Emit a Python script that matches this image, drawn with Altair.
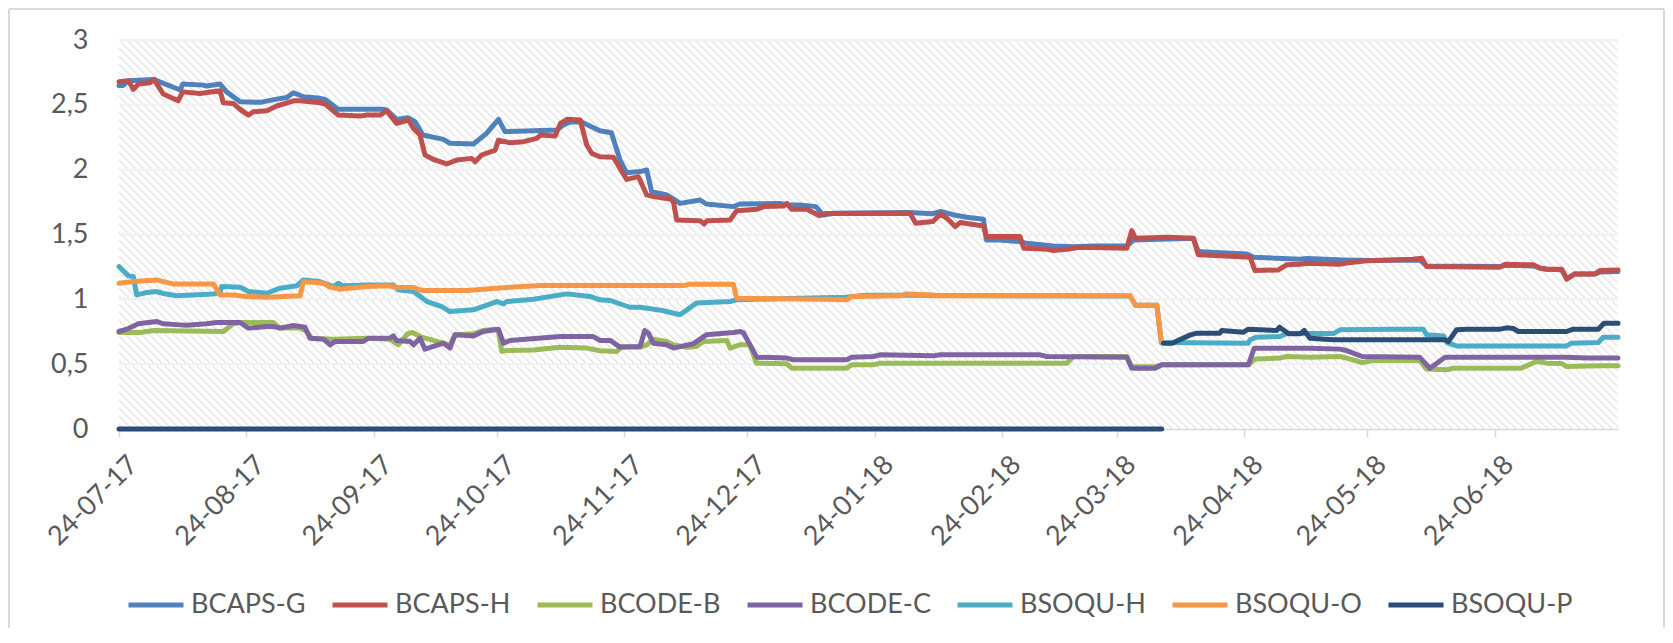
import altair as alt
import pandas as pd

series_names = ["BCAPS-G", "BCAPS-H", "BCODE-B", "BCODE-C", "BSOQU-H", "BSOQU-O", "BSOQU-P"]
series_colors = ["#4F81BD", "#C0504D", "#9BBB59", "#8064A2", "#4BACC6", "#F79646", "#2C4D75"]

start_date = "2017-07-24"
end_date = "2018-07-24"
tick_dates = ["2017-07-24", "2017-08-24", "2017-09-24", "2017-10-24", "2017-11-24", "2017-12-24",
              "2018-01-24", "2018-02-24", "2018-03-24", "2018-04-24", "2018-05-24", "2018-06-24"]
y_ticks = [0, 0.5, 1, 1.5, 2, 2.5, 3]
grid_values = [0.5, 1, 1.5, 2, 2.5, 3]

# day offsets from 24-07-17 and values
bcaps_g_day = [0, 1, 2.3, 4.7, 8.4, 14.9, 15.5, 20.5, 21.3, 24.6, 26.2, 29.5, 34.4, 38.4, 40.8, 42.5, 44.9, 49, 50.2, 53.4,
               64.4, 65.2, 67.6, 70.3, 72.1, 74, 79, 80.6, 86.3, 89.5, 92.4, 94, 101, 106.6, 108.2, 110, 112.8, 115, 117.1, 119.9,
               120.7, 122, 123.6, 126.9, 128.5, 129.7, 133.4, 136.6, 141.5, 143, 149.6, 151.2, 161, 162.6, 165.8, 169.7, 171.5, 174, 192.6, 198,
               200, 203.3, 206.4, 210.5, 211.2, 214.5, 219.4, 221, 227.5, 232.4, 237.3, 245.4, 247.1, 255.5, 261.6, 262.8, 268.1, 274.6, 276.2, 287.6,
               289.2, 298.1, 305.4, 316.7, 318.4, 336.3, 337.5, 344.4, 346.1, 347.7, 351.3, 352.5, 354.5, 359.4, 360.6, 365]
bcaps_g_val = [2.65, 2.65, 2.686, 2.69, 2.696, 2.614, 2.66, 2.652, 2.645, 2.66, 2.60, 2.524, 2.519, 2.544, 2.556, 2.593, 2.562, 2.55, 2.542, 2.465,
               2.465, 2.46, 2.388, 2.40, 2.37, 2.267, 2.234, 2.203, 2.198, 2.28, 2.388, 2.293, 2.30, 2.306, 2.344, 2.37, 2.365, 2.331, 2.30, 2.285,
               2.203, 2.074, 1.977, 1.985, 1.997, 1.83, 1.805, 1.74, 1.766, 1.735, 1.715, 1.735, 1.74, 1.728, 1.728, 1.715, 1.651, 1.664, 1.669, 1.66,
               1.677, 1.651, 1.633, 1.617, 1.458, 1.458, 1.445, 1.432, 1.412, 1.405, 1.412, 1.412, 1.458, 1.465, 1.471, 1.368, 1.36, 1.35, 1.325, 1.309,
               1.315, 1.304, 1.30, 1.304, 1.258, 1.253, 1.262, 1.258, 1.24, 1.232, 1.228, 1.16, 1.196, 1.196, 1.21, 1.214]

bcaps_h_day = [0, 2.3, 3.5, 4.7, 7.5, 8.5, 10.8, 14.4, 15.5, 19.7, 24.6, 25.4, 27.8, 29.5, 31.5, 32.7, 36, 38.4, 42.5, 44.1,
               49, 50.2, 53.4, 58.7, 60.3, 63.6, 65.2, 67.6, 70.5, 71.7, 73.3, 74.5, 76.5, 79.8, 82.2, 85.9, 86.7, 88.3, 91.6, 92.4,
               95.2, 98.5, 101.7, 102.6, 106.2, 107.5, 109.1, 112.3, 113.9, 115.1, 117.1, 120.4, 123.6, 126.5, 128.5, 130.1, 134.2, 135, 135.8, 141.5,
               142.5, 143.2, 148.8, 150.4, 155.3, 157, 161.8, 162.6, 163.8, 167.5, 170.6, 172.2, 192.6, 194, 198.2, 200, 201.6, 203.6, 204.8, 210.5,
               211.2, 219.4, 220.3, 226, 227.5, 230.8, 234, 245.4, 246.6, 247.5, 255.3, 261.6, 262.8, 268.1, 275.4, 276.6, 282.3, 284.3, 287.6, 289.2,
               297.3, 298.9, 303.8, 315.1, 317.2, 318.4, 336.3, 337.5, 344.4, 346.1, 347.7, 351.3, 352.5, 354.5, 359.4, 360.6, 365]
bcaps_h_val = [2.678, 2.686, 2.619, 2.66, 2.67, 2.696, 2.583, 2.531, 2.60, 2.588, 2.609, 2.516, 2.511, 2.465, 2.421, 2.447, 2.455, 2.491, 2.531, 2.531,
               2.516, 2.506, 2.421, 2.413, 2.421, 2.421, 2.455, 2.357, 2.383, 2.318, 2.267, 2.113, 2.08, 2.044, 2.074, 2.087, 2.061, 2.113, 2.151, 2.228,
               2.208, 2.216, 2.241, 2.267, 2.259, 2.357, 2.388, 2.383, 2.19, 2.126, 2.10, 2.095, 1.925, 1.946, 1.805, 1.792, 1.774, 1.753, 1.612, 1.607,
               1.581, 1.607, 1.612, 1.684, 1.694, 1.715, 1.72, 1.74, 1.694, 1.694, 1.645, 1.662, 1.664, 1.586, 1.60, 1.658, 1.625, 1.561, 1.592, 1.566,
               1.484, 1.484, 1.394, 1.386, 1.376, 1.386, 1.402, 1.394, 1.53, 1.471, 1.479, 1.471, 1.343, 1.337, 1.325, 1.222, 1.227, 1.266, 1.27, 1.278,
               1.27, 1.28, 1.298, 1.309, 1.317, 1.253, 1.248, 1.27, 1.266, 1.24, 1.232, 1.232, 1.155, 1.196, 1.196, 1.222, 1.227]

bcode_b_day = [0, 5.1, 8.4, 25.4, 27.8, 29.5, 37.6, 39.2, 44.1, 45.7, 46.9, 52.2, 60.3, 66, 68, 70.3, 71.5, 73.3, 76.5, 80.6,
               81.8, 86.3, 88.7, 91.6, 92.4, 93.2, 94.4, 100.9, 107.4, 113.9, 117.1, 121.2, 122.4, 126.9, 128.5, 130.1, 133.4, 135, 138.2, 140.6,
               142.3, 148, 148.8, 151.2, 153.6, 155.2, 162.6, 163.8, 177.2, 178.4, 183.7, 185.3, 230.8, 232.4, 245.4, 246.6, 252.3, 253.9, 275, 276.6,
               282.7, 284.3, 290, 297.3, 298.9, 302.7, 305.4, 316.7, 318.4, 323.3, 324.9, 341.4, 344.6, 345.4, 347.7, 351.3, 352.5, 360.6, 365]
bcode_b_val = [0.744, 0.744, 0.76, 0.752, 0.811, 0.821, 0.821, 0.778, 0.778, 0.752, 0.70, 0.693, 0.70, 0.693, 0.649, 0.735, 0.744, 0.713, 0.683, 0.649,
               0.726, 0.734, 0.76, 0.77, 0.752, 0.598, 0.605, 0.61, 0.631, 0.624, 0.603, 0.598, 0.636, 0.631, 0.649, 0.693, 0.675, 0.649, 0.631, 0.636,
               0.675, 0.683, 0.624, 0.649, 0.649, 0.508, 0.503, 0.469, 0.469, 0.495, 0.495, 0.508, 0.508, 0.559, 0.559, 0.48, 0.48, 0.495, 0.495, 0.539,
               0.547, 0.559, 0.554, 0.559, 0.547, 0.513, 0.528, 0.528, 0.462, 0.457, 0.469, 0.469, 0.513, 0.521, 0.508, 0.505, 0.482, 0.487, 0.487]

bcode_c_day = [0, 1.9, 4.7, 9.2, 10.8, 14.9, 16.5, 21.3, 23.8, 29.5, 31.5, 36, 37.6, 39.2, 42.5, 45.3, 46.5, 49.8, 51.4, 52.6,
               59.5, 60.7, 66, 66.8, 67.6, 70.9, 71.7, 73.3, 74.5, 79, 80.6, 81.8, 86.3, 88.7, 92.4, 93.6, 95.2, 107.4, 115.5, 117.1,
               119.6, 122, 126.9, 128, 128.9, 130.1, 133.4, 135, 139.8, 143, 149.6, 151.2, 152, 155.3, 162.6, 164.2, 177.2, 178.4, 183.7, 185.3,
               198.2, 200, 224.3, 225.9, 245.4, 246.6, 252.3, 253.9, 275, 276.4, 290, 297.3, 298.9, 302.7, 316.7, 319.2, 322.9, 352.5, 357.4, 365]
bcode_c_val = [0.752, 0.77, 0.811, 0.829, 0.811, 0.803, 0.80, 0.811, 0.821, 0.821, 0.778, 0.79, 0.79, 0.778, 0.798, 0.785, 0.70, 0.693, 0.649, 0.675,
               0.675, 0.70, 0.70, 0.718, 0.683, 0.675, 0.649, 0.70, 0.616, 0.662, 0.624, 0.726, 0.718, 0.752, 0.77, 0.662, 0.683, 0.713, 0.713, 0.683,
               0.683, 0.631, 0.636, 0.76, 0.739, 0.662, 0.649, 0.624, 0.657, 0.726, 0.744, 0.752, 0.744, 0.554, 0.547, 0.534, 0.534, 0.554, 0.559, 0.572,
               0.564, 0.572, 0.572, 0.559, 0.554, 0.469, 0.469, 0.495, 0.495, 0.623, 0.623, 0.616, 0.605, 0.559, 0.554, 0.469, 0.554, 0.554, 0.547, 0.547]

bsoqu_h_day = [0, 2.3, 3.5, 4.3, 6.7, 9.2, 10.8, 14, 23, 24.6, 25, 29.5, 31.5, 36, 39.2, 43.3, 44.9, 48.9, 52.2, 53.4,
               54.6, 60.3, 66.8, 68, 71.7, 75, 78.6, 80.6, 86.3, 92, 93.6, 94.4, 100.9, 109, 114.7, 117.1, 119.6, 124.4, 126.9, 132.3,
               136.6, 140.6, 148.8, 150.4, 165.8, 177, 182, 191, 200, 246.2, 247.5, 252.7, 253.8, 275, 275.4, 277, 282.7, 284.4, 295.7, 297.3,
               310.3, 317.6, 318.4, 322.5, 323.3, 325.7, 352.5, 353.7, 360.2, 361.4, 365]
bsoqu_h_val = [1.253, 1.181, 1.176, 1.034, 1.052, 1.06, 1.045, 1.027, 1.042, 1.052, 1.099, 1.094, 1.06, 1.047, 1.086, 1.104, 1.15, 1.137, 1.099, 1.124,
               1.104, 1.111, 1.111, 1.073, 1.06, 0.983, 0.944, 0.906, 0.919, 0.983, 0.965, 0.983, 1.001, 1.042, 1.022, 0.996, 0.991, 0.939, 0.939, 0.914,
               0.881, 0.971, 0.983, 0.996, 1.009, 1.016, 1.032, 1.032, 1.03, 1.025, 0.955, 0.955, 0.668, 0.662, 0.688, 0.708, 0.713, 0.736, 0.736, 0.765,
               0.77, 0.77, 0.726, 0.718, 0.667, 0.641, 0.641, 0.662, 0.667, 0.708, 0.708]

bsoqu_o_day = [0, 3.5, 9.2, 10.8, 13.2, 23, 24.6, 28, 31.1, 36, 44.1, 44.9, 49.8, 51.4, 53.8, 60.3, 66, 67.6, 71.7, 74,
               84.7, 95.2, 102.6, 137.4, 139, 149.6, 150.4, 170.6, 177.2, 178.4, 190.2, 191.8, 198.3, 199.1, 246.2, 247.5, 252.7, 253.8]
bsoqu_o_val = [1.124, 1.137, 1.15, 1.137, 1.119, 1.119, 1.034, 1.034, 1.021, 1.016, 1.027, 1.137, 1.124, 1.094, 1.078, 1.099, 1.104, 1.091, 1.091, 1.068,
               1.068, 1.094, 1.106, 1.106, 1.117, 1.117, 1.009, 1.001, 0.996, 1.022, 1.027, 1.042, 1.034, 1.027, 1.027, 0.955, 0.955, 0.675]

bsoqu_p_zero_day = [0, 253.9]
bsoqu_p_zero_val = [0, 0]
bsoqu_p_day = [254.3, 256.4, 260.9, 262.5, 268, 268.5, 273.8, 275, 281.9, 282.6, 284.8, 287.6, 288.6, 290, 295.7,
               322.9, 323.7, 325.7, 328.1, 336.3, 337.9, 339.5, 340.7, 352.5, 354.1, 360.2, 361.6, 365]
bsoqu_p_val = [0.662, 0.662, 0.726, 0.739, 0.739, 0.76, 0.747, 0.77, 0.76, 0.785, 0.734, 0.734, 0.76, 0.70, 0.688,
               0.688, 0.675, 0.765, 0.77, 0.77, 0.78, 0.775, 0.752, 0.752, 0.77, 0.77, 0.816, 0.816]

start = pd.Timestamp(start_date)
frames = []


def add(name, seg, days, vals):
    assert len(days) == len(vals), name
    frames.append(pd.DataFrame({
        "series": name,
        "seg": name + "-" + seg,
        "date": start + pd.to_timedelta(days, unit="D"),
        "value": vals,
    }))


add("BCAPS-G", "a", bcaps_g_day, bcaps_g_val)
add("BCAPS-H", "a", bcaps_h_day, bcaps_h_val)
add("BCODE-B", "a", bcode_b_day, bcode_b_val)
add("BCODE-C", "a", bcode_c_day, bcode_c_val)
add("BSOQU-H", "a", bsoqu_h_day, bsoqu_h_val)
add("BSOQU-O", "a", bsoqu_o_day, bsoqu_o_val)
add("BSOQU-P", "a", bsoqu_p_zero_day, bsoqu_p_zero_val)
add("BSOQU-P", "b", bsoqu_p_day, bsoqu_p_val)
df = pd.concat(frames, ignore_index=True)


def dt(s):
    t = pd.Timestamp(s)
    return alt.DateTime(year=t.year, month=t.month, date=t.day)


FONT = "Lato"
TXT = "#595959"
FS = 27
W, H = 1499, 389

y_axis = alt.Axis(
    values=y_ticks,
    format=".1~f",
    labelExpr="replace(datum.label, '.', ',')",
    domain=False,
    ticks=False,
    grid=False,
    labelPadding=31,
    labelFont=FONT,
    labelFontSize=FS,
    labelColor=TXT,
    title=None,
)
y_scale = alt.Scale(domain=[0, 3])

hatch = alt.Chart(alt.sequence(-400, 1504, 8, as_="s")).transform_calculate(
    s2="datum.s + 389"
).mark_rule(clip=True, color="#e1e1e1", strokeWidth=1.2).encode(
    x=alt.X("s:Q", scale=None, axis=None),
    x2="s2:Q",
    y=alt.value(0),
    y2=alt.value(H),
)

grid = alt.Chart(pd.DataFrame({"value": grid_values})).mark_rule(
    color="#f2f2f2", strokeWidth=2.5
).encode(y=alt.Y("value:Q", axis=y_axis, scale=y_scale))

lines = alt.Chart(df).mark_line(
    strokeWidth=5, strokeJoin="round", strokeCap="round"
).encode(
    x=alt.X(
        "date:T",
        title=None,
        scale=alt.Scale(domain=[dt(start_date), dt(end_date)]),
        axis=alt.Axis(
            values=[dt(d) for d in tick_dates],
            format="%d-%m-%y",
            labelAngle=-45,
            labelAlign="right",
            labelBaseline="top",
            labelPadding=14,
            labelOffset=5,
            labelFlush=False,
            labelOverlap=False,
            labelFont=FONT,
            labelFontSize=FS,
            labelColor=TXT,
            grid=False,
            domainColor="#d9d9d9",
            domainWidth=1.5,
            tickColor="#d9d9d9",
            tickWidth=1.5,
            tickSize=8,
        ),
    ),
    y=alt.Y("value:Q", axis=y_axis, scale=y_scale),
    color=alt.Color(
        "series:N",
        scale=alt.Scale(domain=series_names, range=series_colors),
        legend=alt.Legend(
            title=None,
            orient="none",
            legendX=7,
            legendY=535,
            direction="horizontal",
            symbolType="stroke",
            symbolStrokeWidth=5,
            symbolSize=3025,
            labelFont=FONT,
            labelFontSize=FS,
            labelColor=TXT,
            labelOffset=5,
            columnPadding=16,
        ),
    ),
    detail="seg:N",
)

frame_data = alt.Data(values=[{}])
border_left = alt.Chart(frame_data).mark_rule(color="#d9d9d9", strokeWidth=2).encode(
    x=alt.value(-110), y=alt.value(-31), y2=alt.value(588))
border_top = alt.Chart(frame_data).mark_rule(color="#d9d9d9", strokeWidth=2).encode(
    x=alt.value(-110), x2=alt.value(1545), y=alt.value(-31))
border_right = alt.Chart(frame_data).mark_rule(color="#d9d9d9", strokeWidth=2).encode(
    x=alt.value(1545), y=alt.value(-31), y2=alt.value(588))

chart = alt.layer(hatch, grid, lines, border_left, border_top, border_right).properties(
    width=W, height=H, padding={"left": 0, "top": 0, "right": 0, "bottom": 0}
).configure_view(stroke=None)

chart.save("out.html", embed_options={"renderer": "svg", "actions": False})
